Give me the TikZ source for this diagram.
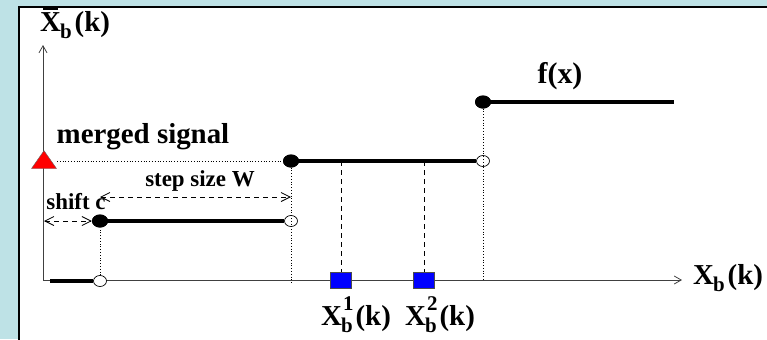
\documentclass[tikz,border=0pt]{standalone}
\usepackage{fontspec}
\setmainfont{Liberation Serif}
\usetikzlibrary{arrows.meta,shapes.geometric}
\definecolor{bgcyan}{HTML}{BEE2E6}
\newcommand\lbl[1]{\fontsize{#1}{#1}\selectfont\bfseries}
\newcommand\Xbk{X\kern-0.03em\raisebox{-0.25em}{\fontsize{21}{21}\selectfont b}\kern0.1em(k)}
\newcommand\Xbks[1]{X\kern-0.03em\makebox[0pt][l]{\raisebox{0.5em}{\fontsize{21}{21}\selectfont\hspace{0.1em}#1}}\raisebox{-0.25em}{\fontsize{21}{21}\selectfont b}\kern0.1em(k)}
\newcommand\Xbarbk{\makebox[0pt][l]{\hspace{0.1em}\rule[0.74em]{0.5em}{0.06em}}\Xbk}
\begin{document}
\begin{tikzpicture}[x=1bp,y=-1bp,
  axis/.style={draw=black!75,line width=0.8bp,-{Straight Barb[length=7bp,width=8bp]}},
  stepline/.style={line width=3.6bp,line cap=butt},
  dotline/.style={dotted,line width=0.8bp},
  dashline/.style={dash pattern=on 5bp off 4bp,line width=0.8bp},
  dimarrow/.style={dash pattern=on 5bp off 4bp,line width=0.8bp,{Straight Barb[length=9bp,width=9bp]}-{Straight Barb[length=9bp,width=9bp]}},
  fdot/.style={ellipse,fill=black,minimum width=16bp,minimum height=13bp,inner sep=0pt},
  odot/.style={ellipse,draw=black,line width=0.7bp,fill=white,minimum width=13bp,minimum height=11bp,inner sep=0pt},
  bsq/.style={draw=black!70,fill=blue,line width=0.6bp,minimum width=21bp,minimum height=16bp,inner sep=0pt},
  txt/.style={inner sep=0pt,anchor=base}]
\useasboundingbox (0,0) rectangle (767,339);
\fill[bgcyan] (0,0) rectangle (767,339);
\filldraw[fill=white,draw=black,line width=2bp] (19,7) rectangle (775,350);
% axes
\coordinate (o) at (43,280);
\coordinate (ytop) at (43,45);
\coordinate (xend) at (682,280);
\draw[axis] (o) -- (ytop);
\draw[axis] (o) -- (xend);
\node[txt,anchor=base west] (ylab) at (40,31) {\lbl{29}\Xbarbk};
\node[txt,anchor=base west] (xlab) at (693,284) {\lbl{29}\Xbk};
% step points
\coordinate (s0) at (50,281);
\node[odot] (o1) at (100,281) {};
\node[fdot] (f1) at (100,221) {};
\node[odot] (o2) at (291,221) {};
\node[fdot] (f2) at (291,161) {};
\node[odot] (o3) at (483,161) {};
\node[fdot] (f3) at (483,102) {};
\coordinate (s3end) at (674,102);
% dotted verticals
\draw[dotline] (o1.north) -- (f1.south);
\draw[dotline] (f2.south) -- (291,283);
\draw[dotline] (f3.south) -- (483,280);
% steps
\draw[stepline] (s0) -- (o1.west);
\draw[stepline] (f1.center) -- (o2.west);
\draw[stepline] (f2.center) -- (o3.west);
\draw[stepline] (f3.center) -- (s3end);
\node[fdot] at (f1) {};
\node[fdot] at (f2) {};
\node[fdot] at (f3) {};
% merged signal
\node[draw=black!60,line width=0.4bp,fill=red,isosceles triangle,shape border rotate=90,isosceles triangle apex angle=70,minimum height=17bp,minimum width=25bp,inner sep=0pt] (tri) at (44,162) {};
\draw[dotline] (57,161) -- (f2.west);
\node[txt] (merged) at (143,143) {\lbl{29}merged signal};
% dimension arrows
\coordinate (w1) at (100,197);
\coordinate (w2) at (291,197);
\draw[dimarrow] (w1) -- (w2);
\node[txt] (stepw) at (200,186) {\lbl{23}step size W};
\coordinate (c1) at (44,221);
\draw[dimarrow] (c1) -- (f1.west);
\node[txt] (shiftc) at (76,209) {\lbl{23}shift c};
% samples
\node[bsq] (q1) at (341,280) {};
\node[bsq] (q2) at (424,280) {};
\coordinate (d1) at (341,161);
\coordinate (d2) at (424,161);
\draw[dashline] (d1) -- (q1.north);
\draw[dashline] (d2) -- (q2.north);
\node[txt] (l1) at (356,325) {\lbl{29}\Xbks{1}};
\node[txt] (l2) at (440,325) {\lbl{29}\Xbks{2}};
\node[txt] (fx) at (560,83) {\lbl{30}f(x)};
\end{tikzpicture}
\end{document}
